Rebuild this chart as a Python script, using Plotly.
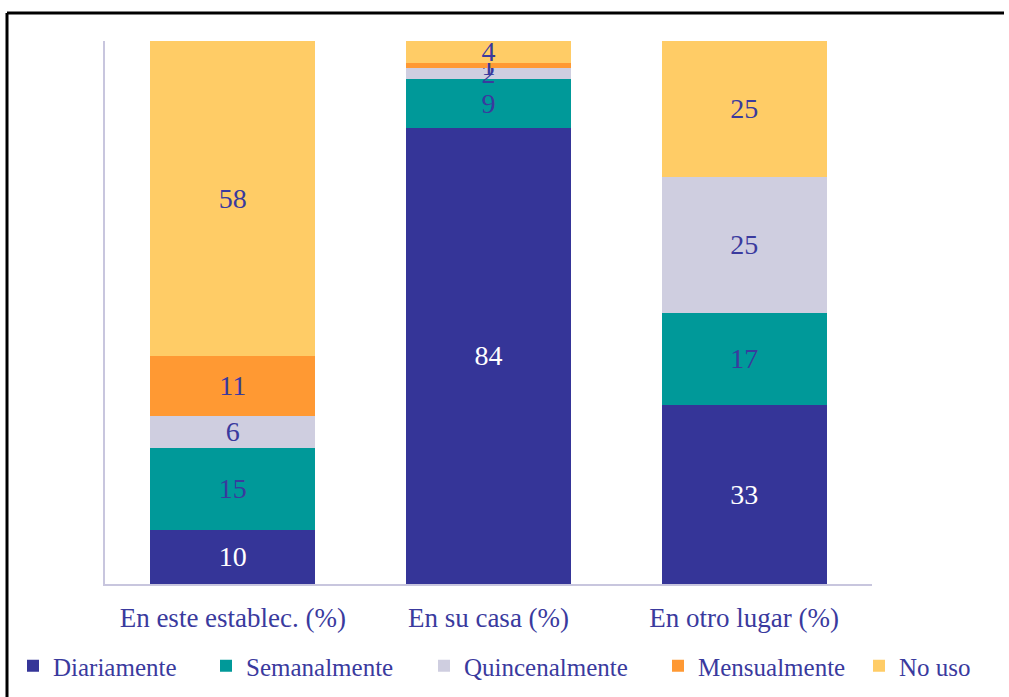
import plotly.graph_objects as go

categories = ["En este establec. (%)", "En su casa (%)", "En otro lugar (%)"]
series_names = ["Diariamente", "Semanalmente", "Quincenalmente", "Mensualmente", "No uso"]
diariamente = [10, 84, 33]
semanalmente = [15, 9, 17]
quincenalmente = [6, 2, 25]
mensualmente = [11, 1, 0]
no_uso = [58, 4, 25]

colors = ["#353598", "#009999", "#CFCEE0", "#FF9933", "#FFCC66"]
label_dark = "#3A3A9E"
label_colors = ["white", label_dark, label_dark, label_dark, label_dark]
FONT = "Liberation Serif, DejaVu Serif, serif"

L, R, T, B = 105, 137, 41, 113
W, H = 1009, 697
pw, ph = W - L - R, H - T - B
fx = lambda px: (px - L) / pw
fy = lambda py: (H - B - py) / ph

# legend text start positions in the reference (px)
legend_text_x = [55, 248, 466, 700, 901]
legend_ids = ["legend", "legend2", "legend3", "legend4", "legend5"]

fig = go.Figure()
for name, vals, col, lc, lid in zip(series_names,
                                    [diariamente, semanalmente, quincenalmente, mensualmente, no_uso],
                                    colors, label_colors, legend_ids):
    fig.add_trace(go.Bar(
        x=categories, y=vals, name=name, legend=lid,
        marker=dict(color=col, line=dict(width=0)),
        text=[str(v) if v else "" for v in vals],
        textposition="inside", insidetextanchor="middle", textangle=0,
        textfont=dict(family=FONT, size=28, color=lc),
        hoverinfo="skip",
    ))

legend_layouts = {}
for lid, tx in zip(legend_ids, legend_text_x):
    legend_layouts[lid] = dict(
        orientation="h", x=fx(tx - 42), xanchor="left", y=fy(666), yanchor="middle",
        font=dict(family=FONT, size=25, color=label_dark),
        itemclick=False, itemdoubleclick=False, bgcolor="rgba(0,0,0,0)",
        itemwidth=30,
    )

fig.update_layout(
    barmode="stack", bargap=0.355,
    width=W, height=H,
    margin=dict(l=L, r=R, t=T, b=B, pad=0, autoexpand=False),
    paper_bgcolor="white", plot_bgcolor="white",
    font=dict(family=FONT, color=label_dark),
    uniformtext=dict(mode="show", minsize=28),
    showlegend=True,
    xaxis=dict(showline=True, linecolor="#C8C6DE", linewidth=1.5, ticks="",
               tickfont=dict(family=FONT, size=27, color=label_dark),
               ticklabelstandoff=9, showgrid=False, zeroline=False),
    yaxis=dict(range=[0, 100], showline=True, linecolor="#C8C6DE", linewidth=1.5,
               showticklabels=False, ticks="", showgrid=False, zeroline=False),
    shapes=[
        dict(type="line", xref="paper", yref="paper", x0=fx(7), x1=fx(7), y0=fy(13), y1=fy(697),
             line=dict(color="black", width=3)),
        dict(type="line", xref="paper", yref="paper", x0=fx(7), x1=fx(1004), y0=fy(13), y1=fy(13),
             line=dict(color="black", width=3)),
    ],
    **legend_layouts,
)

fig.write_html("out.html", config={"displayModeBar": False})

with open("out.html", encoding="utf-8") as f:
    html = f.read()
html = html.replace("<body>", '<body style="margin:0;padding:0;overflow:hidden">', 1)
with open("out.html", "w", encoding="utf-8") as f:
    f.write(html)
